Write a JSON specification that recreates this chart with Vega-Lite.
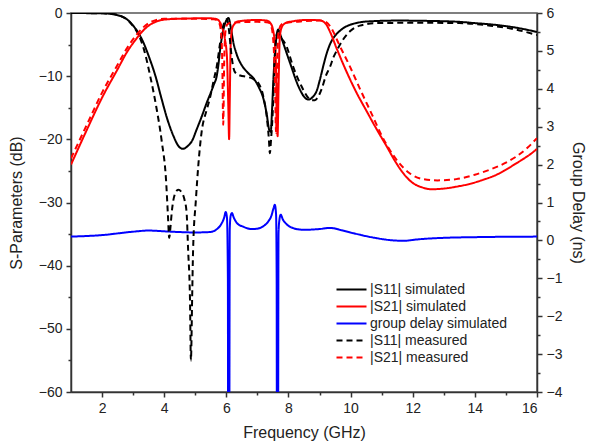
{
  "$schema": "https://vega.github.io/schema/vega-lite/v6.json",
  "width": 466,
  "height": 379,
  "autosize": {"type": "none"},
  "padding": {"left": 71, "top": 13, "right": 56, "bottom": 55},
  "config": {
    "font": "Liberation Sans",
    "view": {"stroke": "#555", "strokeWidth": 1.5},
    "axis": {
      "grid": false,
      "domainColor": "#333",
      "domainWidth": 1.5,
      "tickColor": "#333",
      "tickWidth": 1.5,
      "labelFontSize": 14,
      "labelColor": "#222",
      "labelFont": "Liberation Sans",
      "titleFont": "Liberation Sans",
      "titleFontSize": 16,
      "titleFontWeight": "normal",
      "titleColor": "#222"
    },
    "legend": {"labelFont": "Liberation Sans"}
  },
  "datasets": {
    "sp": [
      {"f": 1.0, "v": 0, "series": "|S11| simulated"},
      {"f": 1.5, "v": -0.02, "series": "|S11| simulated"},
      {"f": 2.0, "v": -0.05, "series": "|S11| simulated"},
      {"f": 2.3, "v": -0.15, "series": "|S11| simulated"},
      {"f": 2.6, "v": -0.5, "series": "|S11| simulated"},
      {"f": 2.8, "v": -1.0, "series": "|S11| simulated"},
      {"f": 3.0, "v": -2.0, "series": "|S11| simulated"},
      {"f": 3.2, "v": -3.4, "series": "|S11| simulated"},
      {"f": 3.35, "v": -4.9, "series": "|S11| simulated"},
      {"f": 3.5, "v": -6.8, "series": "|S11| simulated"},
      {"f": 3.72, "v": -10, "series": "|S11| simulated"},
      {"f": 3.9, "v": -13.3, "series": "|S11| simulated"},
      {"f": 4.1, "v": -16.8, "series": "|S11| simulated"},
      {"f": 4.3, "v": -19.5, "series": "|S11| simulated"},
      {"f": 4.45, "v": -21, "series": "|S11| simulated"},
      {"f": 4.6, "v": -21.5, "series": "|S11| simulated"},
      {"f": 4.75, "v": -21.1, "series": "|S11| simulated"},
      {"f": 4.9, "v": -20.2, "series": "|S11| simulated"},
      {"f": 5.04, "v": -18.5, "series": "|S11| simulated"},
      {"f": 5.2, "v": -16.5, "series": "|S11| simulated"},
      {"f": 5.37, "v": -14.2, "series": "|S11| simulated"},
      {"f": 5.5, "v": -12.6, "series": "|S11| simulated"},
      {"f": 5.6, "v": -11.3, "series": "|S11| simulated"},
      {"f": 5.69, "v": -10, "series": "|S11| simulated"},
      {"f": 5.75, "v": -8, "series": "|S11| simulated"},
      {"f": 5.8, "v": -5.8, "series": "|S11| simulated"},
      {"f": 5.88, "v": -3.2, "series": "|S11| simulated"},
      {"f": 5.95, "v": -1.8, "series": "|S11| simulated"},
      {"f": 6.02, "v": -1.0, "series": "|S11| simulated"},
      {"f": 6.07, "v": -0.8, "series": "|S11| simulated"},
      {"f": 6.15, "v": -2.5, "series": "|S11| simulated"},
      {"f": 6.22, "v": -4.5, "series": "|S11| simulated"},
      {"f": 6.33, "v": -6.5, "series": "|S11| simulated"},
      {"f": 6.5, "v": -8.3, "series": "|S11| simulated"},
      {"f": 6.7, "v": -9.5, "series": "|S11| simulated"},
      {"f": 6.9, "v": -10.5, "series": "|S11| simulated"},
      {"f": 7.05, "v": -11.8, "series": "|S11| simulated"},
      {"f": 7.19, "v": -13.5, "series": "|S11| simulated"},
      {"f": 7.3, "v": -16, "series": "|S11| simulated"},
      {"f": 7.38, "v": -18.5, "series": "|S11| simulated"},
      {"f": 7.43, "v": -18.8, "series": "|S11| simulated"},
      {"f": 7.47, "v": -15.5, "series": "|S11| simulated"},
      {"f": 7.52, "v": -10, "series": "|S11| simulated"},
      {"f": 7.58, "v": -5.5, "series": "|S11| simulated"},
      {"f": 7.63, "v": -3.2, "series": "|S11| simulated"},
      {"f": 7.67, "v": -2.6, "series": "|S11| simulated"},
      {"f": 7.72, "v": -3.2, "series": "|S11| simulated"},
      {"f": 7.83, "v": -4.75, "series": "|S11| simulated"},
      {"f": 8.05, "v": -7.9, "series": "|S11| simulated"},
      {"f": 8.32, "v": -11.6, "series": "|S11| simulated"},
      {"f": 8.53, "v": -13.4, "series": "|S11| simulated"},
      {"f": 8.64, "v": -13.7, "series": "|S11| simulated"},
      {"f": 8.78, "v": -13.3, "series": "|S11| simulated"},
      {"f": 8.91, "v": -12.3, "series": "|S11| simulated"},
      {"f": 9.01, "v": -10.6, "series": "|S11| simulated"},
      {"f": 9.12, "v": -8.4, "series": "|S11| simulated"},
      {"f": 9.23, "v": -6.4, "series": "|S11| simulated"},
      {"f": 9.35, "v": -4.8, "series": "|S11| simulated"},
      {"f": 9.5, "v": -3.6, "series": "|S11| simulated"},
      {"f": 9.66, "v": -2.8, "series": "|S11| simulated"},
      {"f": 9.87, "v": -2.1, "series": "|S11| simulated"},
      {"f": 10.09, "v": -1.7, "series": "|S11| simulated"},
      {"f": 10.4, "v": -1.4, "series": "|S11| simulated"},
      {"f": 10.7, "v": -1.3, "series": "|S11| simulated"},
      {"f": 11.5, "v": -1.2, "series": "|S11| simulated"},
      {"f": 12.5, "v": -1.25, "series": "|S11| simulated"},
      {"f": 13.5, "v": -1.4, "series": "|S11| simulated"},
      {"f": 14.0, "v": -1.6, "series": "|S11| simulated"},
      {"f": 14.7, "v": -1.9, "series": "|S11| simulated"},
      {"f": 15.3, "v": -2.3, "series": "|S11| simulated"},
      {"f": 16.0, "v": -3.0, "series": "|S11| simulated"},

      {"f": 1.0, "v": -24, "series": "|S21| simulated"},
      {"f": 1.5, "v": -18.6, "series": "|S21| simulated"},
      {"f": 2.0, "v": -13.4, "series": "|S21| simulated"},
      {"f": 2.5, "v": -8.9, "series": "|S21| simulated"},
      {"f": 2.8, "v": -6.2, "series": "|S21| simulated"},
      {"f": 3.1, "v": -4.1, "series": "|S21| simulated"},
      {"f": 3.3, "v": -2.9, "series": "|S21| simulated"},
      {"f": 3.5, "v": -2.0, "series": "|S21| simulated"},
      {"f": 3.75, "v": -1.35, "series": "|S21| simulated"},
      {"f": 4.0, "v": -1.05, "series": "|S21| simulated"},
      {"f": 4.5, "v": -0.9, "series": "|S21| simulated"},
      {"f": 5.0, "v": -0.85, "series": "|S21| simulated"},
      {"f": 5.5, "v": -0.85, "series": "|S21| simulated"},
      {"f": 5.7, "v": -1.0, "series": "|S21| simulated"},
      {"f": 5.8, "v": -1.5, "series": "|S21| simulated"},
      {"f": 5.88, "v": -2.5, "series": "|S21| simulated"},
      {"f": 5.95, "v": -4, "series": "|S21| simulated"},
      {"f": 6.02, "v": -7, "series": "|S21| simulated"},
      {"f": 6.06, "v": -14, "series": "|S21| simulated"},
      {"f": 6.09, "v": -20, "series": "|S21| simulated"},
      {"f": 6.11, "v": -14, "series": "|S21| simulated"},
      {"f": 6.14, "v": -5, "series": "|S21| simulated"},
      {"f": 6.18, "v": -2.6, "series": "|S21| simulated"},
      {"f": 6.25, "v": -1.8, "series": "|S21| simulated"},
      {"f": 6.4, "v": -1.3, "series": "|S21| simulated"},
      {"f": 7.0, "v": -1.1, "series": "|S21| simulated"},
      {"f": 7.3, "v": -1.2, "series": "|S21| simulated"},
      {"f": 7.42, "v": -1.6, "series": "|S21| simulated"},
      {"f": 7.5, "v": -2.6, "series": "|S21| simulated"},
      {"f": 7.58, "v": -6, "series": "|S21| simulated"},
      {"f": 7.62, "v": -13, "series": "|S21| simulated"},
      {"f": 7.65, "v": -19.5, "series": "|S21| simulated"},
      {"f": 7.68, "v": -12, "series": "|S21| simulated"},
      {"f": 7.72, "v": -4, "series": "|S21| simulated"},
      {"f": 7.78, "v": -2.3, "series": "|S21| simulated"},
      {"f": 7.9, "v": -1.6, "series": "|S21| simulated"},
      {"f": 8.15, "v": -1.3, "series": "|S21| simulated"},
      {"f": 8.6, "v": -1.1, "series": "|S21| simulated"},
      {"f": 9.0, "v": -1.15, "series": "|S21| simulated"},
      {"f": 9.2, "v": -1.7, "series": "|S21| simulated"},
      {"f": 9.34, "v": -3.0, "series": "|S21| simulated"},
      {"f": 9.55, "v": -5.6, "series": "|S21| simulated"},
      {"f": 9.87, "v": -9.3, "series": "|S21| simulated"},
      {"f": 10.2, "v": -12.7, "series": "|S21| simulated"},
      {"f": 10.5, "v": -15.4, "series": "|S21| simulated"},
      {"f": 10.85, "v": -18.5, "series": "|S21| simulated"},
      {"f": 11.16, "v": -21.1, "series": "|S21| simulated"},
      {"f": 11.45, "v": -23.6, "series": "|S21| simulated"},
      {"f": 11.7, "v": -25.4, "series": "|S21| simulated"},
      {"f": 12.0, "v": -26.9, "series": "|S21| simulated"},
      {"f": 12.3, "v": -27.6, "series": "|S21| simulated"},
      {"f": 12.6, "v": -27.9, "series": "|S21| simulated"},
      {"f": 13.0, "v": -27.8, "series": "|S21| simulated"},
      {"f": 13.4, "v": -27.5, "series": "|S21| simulated"},
      {"f": 13.8, "v": -27.1, "series": "|S21| simulated"},
      {"f": 14.27, "v": -26.4, "series": "|S21| simulated"},
      {"f": 14.7, "v": -25.6, "series": "|S21| simulated"},
      {"f": 15.0, "v": -24.8, "series": "|S21| simulated"},
      {"f": 15.3, "v": -23.9, "series": "|S21| simulated"},
      {"f": 15.56, "v": -23.1, "series": "|S21| simulated"},
      {"f": 15.8, "v": -22.3, "series": "|S21| simulated"},
      {"f": 16.0, "v": -21.5, "series": "|S21| simulated"},

      {"f": 1.0, "v": 0, "series": "|S11| measured"},
      {"f": 2.0, "v": -0.05, "series": "|S11| measured"},
      {"f": 2.4, "v": -0.2, "series": "|S11| measured"},
      {"f": 2.7, "v": -0.7, "series": "|S11| measured"},
      {"f": 2.9, "v": -1.5, "series": "|S11| measured"},
      {"f": 3.05, "v": -2.4, "series": "|S11| measured"},
      {"f": 3.17, "v": -3.4, "series": "|S11| measured"},
      {"f": 3.35, "v": -5.8, "series": "|S11| measured"},
      {"f": 3.55, "v": -10, "series": "|S11| measured"},
      {"f": 3.75, "v": -15, "series": "|S11| measured"},
      {"f": 3.92, "v": -20.3, "series": "|S11| measured"},
      {"f": 4.06, "v": -26.5, "series": "|S11| measured"},
      {"f": 4.12, "v": -32, "series": "|S11| measured"},
      {"f": 4.16, "v": -35.6, "series": "|S11| measured"},
      {"f": 4.2, "v": -34, "series": "|S11| measured"},
      {"f": 4.24, "v": -31.7, "series": "|S11| measured"},
      {"f": 4.35, "v": -28.6, "series": "|S11| measured"},
      {"f": 4.45, "v": -28, "series": "|S11| measured"},
      {"f": 4.55, "v": -28.3, "series": "|S11| measured"},
      {"f": 4.65, "v": -29.5, "series": "|S11| measured"},
      {"f": 4.72, "v": -31.5, "series": "|S11| measured"},
      {"f": 4.77, "v": -37.5, "series": "|S11| measured"},
      {"f": 4.83, "v": -45.4, "series": "|S11| measured"},
      {"f": 4.86, "v": -55, "series": "|S11| measured"},
      {"f": 4.9, "v": -45, "series": "|S11| measured"},
      {"f": 4.93, "v": -37.5, "series": "|S11| measured"},
      {"f": 5.02, "v": -29.6, "series": "|S11| measured"},
      {"f": 5.1, "v": -24, "series": "|S11| measured"},
      {"f": 5.2, "v": -19, "series": "|S11| measured"},
      {"f": 5.37, "v": -15.3, "series": "|S11| measured"},
      {"f": 5.47, "v": -13.5, "series": "|S11| measured"},
      {"f": 5.6, "v": -10.5, "series": "|S11| measured"},
      {"f": 5.69, "v": -8.5, "series": "|S11| measured"},
      {"f": 5.8, "v": -4.75, "series": "|S11| measured"},
      {"f": 5.9, "v": -2.1, "series": "|S11| measured"},
      {"f": 5.97, "v": -1.1, "series": "|S11| measured"},
      {"f": 6.02, "v": -1.0, "series": "|S11| measured"},
      {"f": 6.08, "v": -2.5, "series": "|S11| measured"},
      {"f": 6.15, "v": -6, "series": "|S11| measured"},
      {"f": 6.22, "v": -8.5, "series": "|S11| measured"},
      {"f": 6.3, "v": -9.5, "series": "|S11| measured"},
      {"f": 6.45, "v": -9.9, "series": "|S11| measured"},
      {"f": 6.65, "v": -10.1, "series": "|S11| measured"},
      {"f": 6.85, "v": -10.4, "series": "|S11| measured"},
      {"f": 7.03, "v": -11.1, "series": "|S11| measured"},
      {"f": 7.19, "v": -13.2, "series": "|S11| measured"},
      {"f": 7.3, "v": -16.4, "series": "|S11| measured"},
      {"f": 7.37, "v": -20, "series": "|S11| measured"},
      {"f": 7.4, "v": -22.2, "series": "|S11| measured"},
      {"f": 7.44, "v": -20, "series": "|S11| measured"},
      {"f": 7.5, "v": -15, "series": "|S11| measured"},
      {"f": 7.55, "v": -8, "series": "|S11| measured"},
      {"f": 7.6, "v": -4, "series": "|S11| measured"},
      {"f": 7.64, "v": -3.2, "series": "|S11| measured"},
      {"f": 7.7, "v": -3.6, "series": "|S11| measured"},
      {"f": 7.94, "v": -5.3, "series": "|S11| measured"},
      {"f": 8.15, "v": -8.5, "series": "|S11| measured"},
      {"f": 8.42, "v": -11.6, "series": "|S11| measured"},
      {"f": 8.6, "v": -13.2, "series": "|S11| measured"},
      {"f": 8.74, "v": -13.8, "series": "|S11| measured"},
      {"f": 8.85, "v": -13.8, "series": "|S11| measured"},
      {"f": 8.95, "v": -13.3, "series": "|S11| measured"},
      {"f": 9.07, "v": -12, "series": "|S11| measured"},
      {"f": 9.2, "v": -10, "series": "|S11| measured"},
      {"f": 9.34, "v": -8.5, "series": "|S11| measured"},
      {"f": 9.45, "v": -7, "series": "|S11| measured"},
      {"f": 9.55, "v": -6, "series": "|S11| measured"},
      {"f": 9.76, "v": -4.2, "series": "|S11| measured"},
      {"f": 9.98, "v": -2.9, "series": "|S11| measured"},
      {"f": 10.3, "v": -2.0, "series": "|S11| measured"},
      {"f": 10.84, "v": -1.6, "series": "|S11| measured"},
      {"f": 12.2, "v": -1.55, "series": "|S11| measured"},
      {"f": 13.5, "v": -1.6, "series": "|S11| measured"},
      {"f": 14.5, "v": -2.0, "series": "|S11| measured"},
      {"f": 15.3, "v": -2.6, "series": "|S11| measured"},
      {"f": 16.0, "v": -3.5, "series": "|S11| measured"},

      {"f": 1.0, "v": -23, "series": "|S21| measured"},
      {"f": 1.5, "v": -17.8, "series": "|S21| measured"},
      {"f": 2.0, "v": -12.6, "series": "|S21| measured"},
      {"f": 2.5, "v": -8.2, "series": "|S21| measured"},
      {"f": 2.8, "v": -5.6, "series": "|S21| measured"},
      {"f": 3.1, "v": -3.5, "series": "|S21| measured"},
      {"f": 3.3, "v": -2.4, "series": "|S21| measured"},
      {"f": 3.5, "v": -1.6, "series": "|S21| measured"},
      {"f": 3.75, "v": -1.1, "series": "|S21| measured"},
      {"f": 4.0, "v": -0.9, "series": "|S21| measured"},
      {"f": 5.0, "v": -0.9, "series": "|S21| measured"},
      {"f": 5.6, "v": -1.0, "series": "|S21| measured"},
      {"f": 5.75, "v": -1.4, "series": "|S21| measured"},
      {"f": 5.83, "v": -3, "series": "|S21| measured"},
      {"f": 5.87, "v": -8, "series": "|S21| measured"},
      {"f": 5.9, "v": -17.7, "series": "|S21| measured"},
      {"f": 5.93, "v": -8, "series": "|S21| measured"},
      {"f": 5.97, "v": -3, "series": "|S21| measured"},
      {"f": 6.03, "v": -1.8, "series": "|S21| measured"},
      {"f": 6.2, "v": -1.5, "series": "|S21| measured"},
      {"f": 7.0, "v": -1.4, "series": "|S21| measured"},
      {"f": 7.35, "v": -1.5, "series": "|S21| measured"},
      {"f": 7.45, "v": -2.2, "series": "|S21| measured"},
      {"f": 7.52, "v": -5, "series": "|S21| measured"},
      {"f": 7.57, "v": -12, "series": "|S21| measured"},
      {"f": 7.6, "v": -19, "series": "|S21| measured"},
      {"f": 7.63, "v": -10, "series": "|S21| measured"},
      {"f": 7.68, "v": -3, "series": "|S21| measured"},
      {"f": 7.78, "v": -1.8, "series": "|S21| measured"},
      {"f": 8.0, "v": -1.5, "series": "|S21| measured"},
      {"f": 8.5, "v": -1.3, "series": "|S21| measured"},
      {"f": 9.0, "v": -1.2, "series": "|S21| measured"},
      {"f": 9.2, "v": -1.4, "series": "|S21| measured"},
      {"f": 9.34, "v": -2.1, "series": "|S21| measured"},
      {"f": 9.66, "v": -5.3, "series": "|S21| measured"},
      {"f": 9.98, "v": -8.5, "series": "|S21| measured"},
      {"f": 10.3, "v": -12, "series": "|S21| measured"},
      {"f": 10.7, "v": -16.2, "series": "|S21| measured"},
      {"f": 11.0, "v": -19.4, "series": "|S21| measured"},
      {"f": 11.37, "v": -22.5, "series": "|S21| measured"},
      {"f": 11.7, "v": -24.5, "series": "|S21| measured"},
      {"f": 11.91, "v": -25.4, "series": "|S21| measured"},
      {"f": 12.34, "v": -26.3, "series": "|S21| measured"},
      {"f": 12.8, "v": -26.5, "series": "|S21| measured"},
      {"f": 13.4, "v": -26.3, "series": "|S21| measured"},
      {"f": 14.0, "v": -25.6, "series": "|S21| measured"},
      {"f": 14.48, "v": -24.8, "series": "|S21| measured"},
      {"f": 15.0, "v": -23.7, "series": "|S21| measured"},
      {"f": 15.34, "v": -22.7, "series": "|S21| measured"},
      {"f": 15.7, "v": -21.3, "series": "|S21| measured"},
      {"f": 16.0, "v": -19.8, "series": "|S21| measured"}
    ],
    "gd": [
      {"f": 1.0, "v": 0.1, "series": "group delay simulated"},
      {"f": 2.0, "v": 0.14, "series": "group delay simulated"},
      {"f": 3.0, "v": 0.23, "series": "group delay simulated"},
      {"f": 3.5, "v": 0.26, "series": "group delay simulated"},
      {"f": 4.0, "v": 0.24, "series": "group delay simulated"},
      {"f": 4.5, "v": 0.22, "series": "group delay simulated"},
      {"f": 5.0, "v": 0.21, "series": "group delay simulated"},
      {"f": 5.47, "v": 0.22, "series": "group delay simulated"},
      {"f": 5.7, "v": 0.3, "series": "group delay simulated"},
      {"f": 5.85, "v": 0.45, "series": "group delay simulated"},
      {"f": 5.93, "v": 0.6, "series": "group delay simulated"},
      {"f": 5.98, "v": 0.75, "series": "group delay simulated"},
      {"f": 6.02, "v": 0.6, "series": "group delay simulated"},
      {"f": 6.05, "v": -1, "series": "group delay simulated"},
      {"f": 6.06, "v": -8, "series": "group delay simulated"},
      {"f": 6.09, "v": -8, "series": "group delay simulated"},
      {"f": 6.11, "v": 0.3, "series": "group delay simulated"},
      {"f": 6.14, "v": 0.65, "series": "group delay simulated"},
      {"f": 6.18, "v": 0.72, "series": "group delay simulated"},
      {"f": 6.24, "v": 0.6, "series": "group delay simulated"},
      {"f": 6.35, "v": 0.45, "series": "group delay simulated"},
      {"f": 6.55, "v": 0.36, "series": "group delay simulated"},
      {"f": 6.8, "v": 0.3, "series": "group delay simulated"},
      {"f": 7.0, "v": 0.31, "series": "group delay simulated"},
      {"f": 7.2, "v": 0.38, "series": "group delay simulated"},
      {"f": 7.35, "v": 0.5, "series": "group delay simulated"},
      {"f": 7.45, "v": 0.65, "series": "group delay simulated"},
      {"f": 7.52, "v": 0.85, "series": "group delay simulated"},
      {"f": 7.56, "v": 0.94, "series": "group delay simulated"},
      {"f": 7.6, "v": 0.7, "series": "group delay simulated"},
      {"f": 7.62, "v": -1, "series": "group delay simulated"},
      {"f": 7.63, "v": -8, "series": "group delay simulated"},
      {"f": 7.66, "v": -8, "series": "group delay simulated"},
      {"f": 7.68, "v": 0.2, "series": "group delay simulated"},
      {"f": 7.71, "v": 0.55, "series": "group delay simulated"},
      {"f": 7.75, "v": 0.68, "series": "group delay simulated"},
      {"f": 7.82, "v": 0.55, "series": "group delay simulated"},
      {"f": 7.95, "v": 0.42, "series": "group delay simulated"},
      {"f": 8.1, "v": 0.34, "series": "group delay simulated"},
      {"f": 8.48, "v": 0.28, "series": "group delay simulated"},
      {"f": 9.0, "v": 0.3, "series": "group delay simulated"},
      {"f": 9.34, "v": 0.33, "series": "group delay simulated"},
      {"f": 9.7, "v": 0.27, "series": "group delay simulated"},
      {"f": 10.09, "v": 0.19, "series": "group delay simulated"},
      {"f": 10.7, "v": 0.08, "series": "group delay simulated"},
      {"f": 11.37, "v": 0.0, "series": "group delay simulated"},
      {"f": 11.7, "v": -0.01, "series": "group delay simulated"},
      {"f": 12.2, "v": 0.03, "series": "group delay simulated"},
      {"f": 12.77, "v": 0.06, "series": "group delay simulated"},
      {"f": 14.38, "v": 0.09, "series": "group delay simulated"},
      {"f": 16.0, "v": 0.1, "series": "group delay simulated"}
    ]
  },
  "encoding": {
    "x": {
      "field": "f",
      "type": "quantitative",
      "scale": {"domain": [1, 16], "nice": false, "zero": false},
      "axis": {
        "title": "Frequency (GHz)",
        "values": [2, 3, 4, 5, 6, 7, 8, 9, 10, 11, 12, 13, 14, 15, 16],
        "labelExpr": "datum.value % 2 == 0 ? datum.label : ''",
        "tickSize": {"condition": {"test": "datum.value % 2 == 0", "value": 5}, "value": 3},
        "labelPadding": 4,
        "titlePadding": 9
      }
    },
    "color": {
      "field": "series",
      "type": "nominal",
      "scale": {
        "domain": ["|S11| simulated", "|S21| simulated", "group delay simulated", "|S11| measured", "|S21| measured"],
        "range": ["#000000", "#ff0000", "#0000ff", "#000000", "#ff0000"]
      },
      "legend": {
        "title": null,
        "orient": "none",
        "legendX": 272,
        "legendY": 268,
        "symbolType": "M-2,0H2",
        "symbolSize": 225,
        "symbolStrokeWidth": 2,
        "symbolFillColor": "transparent",
        "labelFontSize": 14,
        "labelColor": "#222",
        "labelOffset": 10,
        "rowPadding": 1
      }
    },
    "strokeDash": {
      "field": "series",
      "type": "nominal",
      "scale": {
        "domain": ["|S11| simulated", "|S21| simulated", "group delay simulated", "|S11| measured", "|S21| measured"],
        "range": [[1, 0], [1, 0], [1, 0], [6, 4], [6, 4]]
      },
      "legend": {
        "title": null,
        "orient": "none",
        "legendX": 272,
        "legendY": 268,
        "symbolType": "M-2,0H2",
        "symbolSize": 225,
        "symbolStrokeWidth": 2,
        "symbolFillColor": "transparent",
        "labelFontSize": 14,
        "labelColor": "#222",
        "labelOffset": 10,
        "rowPadding": 1
      }
    }
  },
  "layer": [
    {
      "data": {"name": "gd"},
      "mark": {"type": "line", "clip": true, "strokeWidth": 2, "interpolate": "monotone"},
      "encoding": {
        "y": {
          "field": "v",
          "type": "quantitative",
          "scale": {"domain": [-4, 6], "nice": false, "zero": false},
          "axis": {
            "orient": "right",
            "title": "Group Delay (ns)",
            "values": [-4, -3.5, -3, -2.5, -2, -1.5, -1, -0.5, 0, 0.5, 1, 1.5, 2, 2.5, 3, 3.5, 4, 4.5, 5, 5.5, 6],
            "labelExpr": "datum.value % 1 == 0 ? format(datum.value, 'd') : ''",
            "tickSize": {"condition": {"test": "datum.value % 1 == 0", "value": 5}, "value": 3},
            "labelPadding": 4,
            "titlePadding": 8
          }
        }
      }
    },
    {
      "data": {"name": "sp"},
      "mark": {"type": "line", "clip": true, "strokeWidth": 2, "interpolate": "monotone"},
      "encoding": {
        "y": {
          "field": "v",
          "type": "quantitative",
          "scale": {"domain": [-60, 0], "nice": false, "zero": false},
          "axis": {
            "orient": "left",
            "title": "S-Parameters (dB)",
            "values": [-60, -55, -50, -45, -40, -35, -30, -25, -20, -15, -10, -5, 0],
            "labelExpr": "datum.value % 10 == 0 ? datum.label : ''",
            "tickSize": {"condition": {"test": "datum.value % 10 == 0", "value": 5}, "value": 3},
            "labelPadding": 4,
            "titlePadding": 14
          }
        }
      }
    }
  ],
  "resolve": {"scale": {"y": "independent"}}
}
